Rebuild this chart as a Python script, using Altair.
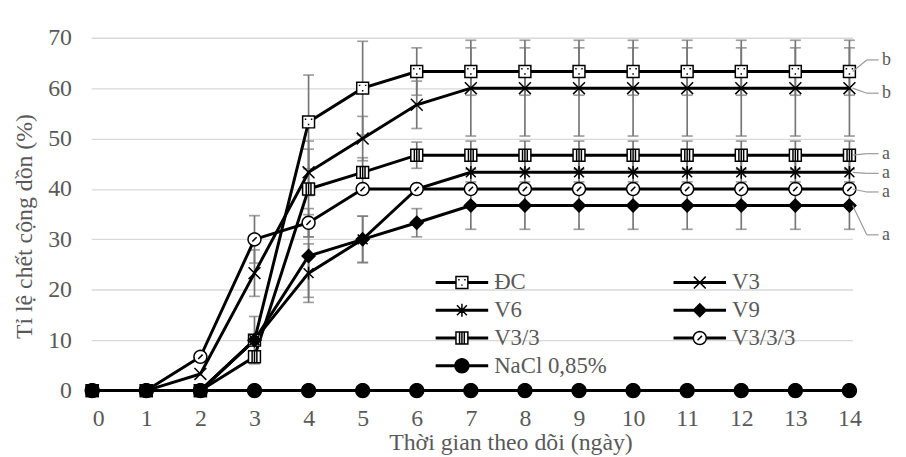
import re
import math
import altair as alt
import pandas as pd

# ---------------- data ----------------
days = [0, 1, 2, 3, 4, 5, 6, 7, 8, 9, 10, 11, 12, 13, 14]
series = ["ĐC", "V3", "V6", "V9", "V3/3", "V3/3/3", "NaCl 0,85%"]

dc   = [0, 0, 0, 10, 53.3, 60, 63.3, 63.3, 63.3, 63.3, 63.3, 63.3, 63.3, 63.3, 63.3]
v3   = [0, 0, 3.3, 23.3, 43.3, 50, 56.7, 60, 60, 60, 60, 60, 60, 60, 60]
v6   = [0, 0, 0, 10, 23.3, 30, 40, 43.3, 43.3, 43.3, 43.3, 43.3, 43.3, 43.3, 43.3]
v9   = [0, 0, 0, 10, 26.7, 30, 33.3, 36.7, 36.7, 36.7, 36.7, 36.7, 36.7, 36.7, 36.7]
v33  = [0, 0, 0, 6.7, 40, 43.3, 46.7, 46.7, 46.7, 46.7, 46.7, 46.7, 46.7, 46.7, 46.7]
v333 = [0, 0, 6.7, 30, 33.3, 40, 40, 40, 40, 40, 40, 40, 40, 40, 40]
nacl = [0, 0, 0, 0, 0, 0, 0, 0, 0, 0, 0, 0, 0, 0, 0]

dc_sd   = [0, 0, 0, 4.7, 9.3, 9.3, 4.7, 4.7, 4.7, 4.7, 4.7, 4.7, 4.7, 4.7, 4.7]
v3_sd   = [0, 0, 0, 4.6, 4.6, 4.4, 4.7, 9.5, 9.5, 9.5, 9.5, 9.5, 9.5, 9.5, 9.5]
v6_sd   = [0, 0, 0, 0, 5.8, 4.6, 0, 2.8, 2.8, 2.8, 2.8, 2.8, 2.8, 2.8, 2.8]
v9_sd   = [0, 0, 0, 0, 8.2, 4.6, 2.8, 4.7, 4.7, 4.7, 4.7, 4.7, 4.7, 4.7, 4.7]
v33_sd  = [0, 0, 0, 0, 9.5, 2.9, 2.6, 2.8, 2.8, 2.8, 2.8, 2.8, 2.8, 2.8, 2.8]
v333_sd = [0, 0, 0, 4.7, 2.8, 0, 0, 0, 0, 0, 0, 0, 0, 0, 0]
nacl_sd = [0, 0, 0, 0, 0, 0, 0, 0, 0, 0, 0, 0, 0, 0, 0]

x_ticks = [0, 1, 2, 3, 4, 5, 6, 7, 8, 9, 10, 11, 12, 13, 14]
y_ticks = [0, 10, 20, 30, 40, 50, 60, 70]

# significance letters at the right end
ann_series  = ["ĐC", "V3", "V3/3", "V6", "V3/3/3", "V9"]
ann_letters = ["b", "b", "a", "a", "a", "a"]
ann_label_y = [65.6, 59.0, 47.0, 43.1, 39.4, 30.9]

X_TITLE = "Thời gian theo dõi (ngày)"
Y_TITLE = "Tỉ lệ chết cộng dồn (%)"

# ---------------- tables ----------------
values = [dc, v3, v6, v9, v33, v333, nacl]
sds = [dc_sd, v3_sd, v6_sd, v9_sd, v33_sd, v333_sd, nacl_sd]
rows = []
for s, vals, sd in zip(series, values, sds):
    for d, v, e in zip(days, vals, sd):
        rows.append({"series": s, "day": d, "value": v, "sd": e,
                     "lo": v - e, "hi": v + e})
df = pd.DataFrame(rows)
df_err = df[df["sd"] > 0].reset_index(drop=True)

last_val = {s: vals[-1] for s, vals in zip(series, values)}
df_ann = pd.DataFrame({
    "series": ann_series,
    "letter": ann_letters,
    "label_y": ann_label_y,
    "end": [last_val[s] for s in ann_series],
})

# ---------------- marker shapes (px, centred) ----------------
def fmt(v):
    s = f"{v:.4f}".rstrip("0").rstrip(".")
    return "0" if s in ("", "-0") else s

def scale_path(path_px, unit):
    return re.sub(r"-?\d+(?:\.\d+)?", lambda m: fmt(float(m.group()) / unit), path_px)

def circle_px(r, n=32):
    pts = [(r * math.cos(2 * math.pi * i / n), r * math.sin(2 * math.pi * i / n)) for i in range(n)]
    return "M" + "L".join(f"{x:.3f},{y:.3f}" for x, y in pts) + "Z"

SQ = "M-6,-6H6V6H-6Z"
MARKERS_PX = {
    "ĐC": SQ + " M-3.8,-2.8H-2.3 M2.3,-2.8H3.8 M-0.75,2.6H0.75",
    "V3": "M-6,-6L6,6M-6,6L6,-6",
    "V6": "M-5,-5L5,5M-5,5L5,-5M0,-6.5V6.5",
    "V9": "M0,-6.5L6.5,0L0,6.5L-6.5,0Z",
    "V3/3": SQ + " M-2.4,-6V6 M0,-6V6 M2.4,-6V6",
    "V3/3/3": circle_px(6.5) + " M-2.2,2.2L2.2,-2.2",
    "NaCl 0,85%": circle_px(7),
}
GAP = {"ĐC": 6, "V3": 0, "V6": 0, "V9": 0, "V3/3": 6, "V3/3/3": 6.5, "NaCl 0,85%": 0}
FILLS = ["white", "white", "white", "black", "white", "white", "black"]
STROKES = ["black"] * 7

CHART_UNIT = 6.0          # size 144 -> sqrt/2 = 6 px per unit
LEG_HALF = 26.5           # size 2809 -> sqrt/2 = 26.5 px per unit
chart_paths = [scale_path(MARKERS_PX[s], CHART_UNIT) for s in series]
legend_paths = []
for s in series:
    g = GAP[s]
    stub = (f"M-26.5,-0.75H{-g} M-26.5,0.75H{-g} "
            f"M{g},-0.75H26.5 M{g},0.75H26.5 ")
    legend_paths.append(scale_path(stub + MARKERS_PX[s], LEG_HALF))

# ---------------- encodings ----------------
FONT = "Liberation Serif"
GRAY_TXT = "#595959"
ERR = "#767676"

xscale = alt.Scale(domain=[-0.018, 14.055], nice=False, zero=False)
yscale = alt.Scale(domain=[0, 70], nice=False)

xaxis = alt.Axis(values=x_ticks, format="d", grid=False, domain=False, ticks=False,
                 labelFont=FONT, titleFont=FONT,
                 labelFontSize=24, labelPadding=16, titleFontSize=24,
                 titleX=423, titleY=59, titleBaseline="alphabetic", titleAlign="center")
yaxis = alt.Axis(values=y_ticks, format="d", grid=True, gridColor="#d9d9d9", gridWidth=1.3,
                 labelFont=FONT, titleFont=FONT,
                 domain=False, ticks=False, labelFontSize=24, labelPadding=20,
                 titleFontSize=24, titleX=-67, titleY=190, titleAngle=-90,
                 titleBaseline="middle", titleAlign="center")

def X(field):
    return alt.X(field, scale=xscale, axis=xaxis, title=X_TITLE)

def Y(field):
    return alt.Y(field, scale=yscale, axis=yaxis, title=Y_TITLE)

base = alt.Chart(df)

err_bar = alt.Chart(df_err).mark_rule(color=ERR, strokeWidth=1.7).encode(
    x=X("day:Q"), y=Y("lo:Q"), y2="hi:Q")
cap_lo = alt.Chart(df_err).mark_tick(color=ERR, thickness=1.7, size=11, orient="horizontal").encode(
    x=X("day:Q"), y=Y("lo:Q"))
cap_hi = alt.Chart(df_err).mark_tick(color=ERR, thickness=1.7, size=11, orient="horizontal").encode(
    x=X("day:Q"), y=Y("hi:Q"))

lines = base.mark_line(color="black", strokeWidth=3).encode(
    x=X("day:Q"), y=Y("value:Q"), detail="series:N", order="day:Q")

points = base.mark_point(filled=True, size=144, stroke="black", strokeWidth=1.5, opacity=1).encode(
    x=X("day:Q"), y=Y("value:Q"),
    shape=alt.Shape("series:N", scale=alt.Scale(domain=series, range=chart_paths), legend=None),
    fill=alt.Fill("series:N", scale=alt.Scale(domain=series, range=FILLS), legend=None),
)

leg = alt.Legend(orient="none", legendX=346.5, legendY=237, columns=2, columnPadding=66,
                 direction="horizontal",
                 rowPadding=5, clipHeight=20, symbolSize=2809, symbolStrokeWidth=1.5,
                 symbolStrokeColor="black", labelFontSize=23, labelFont=FONT,
                 labelColor=GRAY_TXT, labelOffset=5, title=None, padding=0)

legend_layer = base.transform_filter("datum.day < 0").mark_point(
    filled=True, size=2809, strokeWidth=1.5, opacity=1).encode(
    x=X("day:Q"), y=Y("value:Q"),
    shape=alt.Shape("series:N", scale=alt.Scale(domain=series, range=legend_paths), legend=leg),
    fill=alt.Fill("series:N", scale=alt.Scale(domain=series, range=FILLS), legend=leg),
    stroke=alt.Stroke("series:N", scale=alt.Scale(domain=series, range=STROKES), legend=leg),
)

ann = alt.Chart(df_ann)
lead1 = ann.mark_rule(color="#9a9a9a", strokeWidth=1.2).encode(
    x=alt.datum(14.06), x2=alt.datum(14.32), y=Y("end:Q"), y2="label_y:Q")
lead2 = ann.mark_rule(color="#9a9a9a", strokeWidth=1.2).encode(
    x=alt.datum(14.32), x2=alt.datum(14.54), y=Y("label_y:Q"))
letters = ann.mark_text(align="left", baseline="middle", fontSize=18, font=FONT,
                        color=GRAY_TXT).encode(
    x=alt.datum(14.6), y=Y("label_y:Q"), text="letter:N")

chart = alt.layer(
    err_bar, cap_lo, cap_hi, lines, points, legend_layer, lead1, lead2, letters
).resolve_scale(
    shape="independent", fill="independent", stroke="independent"
).properties(
    width=768, height=356,
    autosize=alt.AutoSizeParams(type="none"),
    padding={"left": 84, "top": 28, "right": 46, "bottom": 65},
).configure(
    font=FONT
).configure_view(
    stroke=None
).configure_axis(
    labelColor=GRAY_TXT, titleColor=GRAY_TXT, labelFont=FONT, titleFont=FONT,
    titleFontWeight="normal"
).configure_legend(
    labelFont=FONT
)

chart.save("out.html", embed_options={"renderer": "svg", "actions": False})
